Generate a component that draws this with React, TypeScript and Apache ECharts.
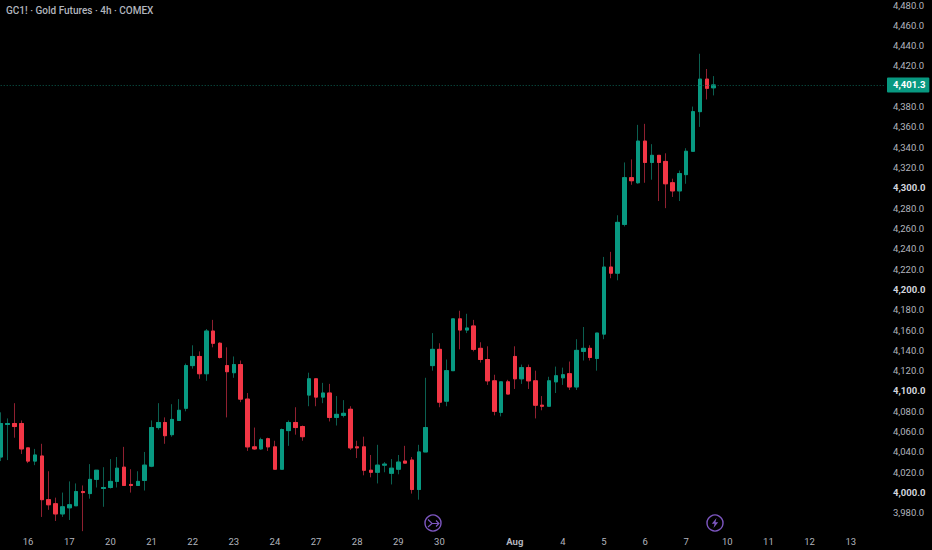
import React, { useEffect, useRef } from "react";
import * as echarts from "echarts";

const titleText = "GC1! · Gold Futures · 4h · COMEX";
const lastPrice = 4401.3;

const opens = [4035,4067,4068,4068,4044,4031,4036,3993,3989,3979,3985,3987,4001,3999,4013,4004,4005,4011,4025,4008,4007,4012,4026,4064,4069,4057,4071,4083,4125,4134,4117,4159,4147,4125,4118,4126,4092,4045,4043,4053,4045,4023,4061,4069,4065,4096,4112,4094,4098,4074,4076,4082,4045,4045,4022,4020,4027,4019,4023,4031,4032,4003,4040,4125,4141,4090,4120,4171,4160,4164,4142,4131,4110,4079,4109,4134,4112,4123,4110,4086,4085,4109,4113,4117,4104,4139,4142,4132,4156,4222,4216,4264,4310,4305,4346,4325,4332,4326,4305,4297,4313,4336,4375,4407,4398.5];
const closes = [4068,4068,4065,4043,4031,4037,3993,3988,3979,3986,3988,4001,4000,4013,4022,4005,4011,4024,4007,4007,4011,4027,4064,4069,4056,4072,4081,4125,4134,4117,4159,4147,4133,4119,4126,4092,4045,4043,4052,4045,4023,4062,4069,4064,4055,4112,4094,4098,4074,4077,4078,4044,4044,4022,4020,4027,4028,4024,4030,4029,4003,4040,4064,4141,4089,4120,4171,4160,4162,4141,4131,4110,4080,4109,4097,4112,4123,4110,4086,4085,4110,4115,4116,4104,4140,4142,4133,4157,4222,4216,4266,4310,4307,4346,4325,4332,4325,4304,4297,4314,4336,4375,4407,4398,4401.3];
const lows = [4031,4032,4054,4038,4029,4027,3976,3983,3972,3976,3973,3987,3962,3994,4005,3986,4004,4005,4007,4000,4007,4002,4025,4062,4048,4055,4071,4080,4122,4112,4110,4143,4132,4074,4113,4089,4041,4042,4042,4041,4023,4023,4046,4057,4051,4085,4085,4088,4070,4066,4074,4042,4034,4017,4015,4009,4020,4008,4018,4029,3999,3993,4040,4120,4084,4085,4120,4141,4157,4139,4128,4106,4076,4075,4097,4102,4107,4102,4073,4081,4085,4098,4106,4101,4101,4130,4130,4120,4151,4211,4209,4262,4303,4304,4305,4308,4287,4280,4291,4287,4304,4336,4360,4387,4391];
const highs = [4079,4073,4088,4071,4044,4043,4048,4021,3995,4000,4011,4009,4007,4028,4022,4025,4033,4035,4045,4023,4021,4040,4071,4088,4074,4087,4092,4127,4145,4139,4161,4170,4148,4143,4134,4130,4098,4064,4054,4054,4051,4063,4071,4084,4066,4118,4112,4108,4107,4095,4091,4085,4051,4055,4037,4047,4030,4033,4037,4046,4035,4047,4113,4157,4147,4131,4171,4179,4176,4170,4148,4144,4116,4109,4111,4144,4126,4126,4120,4095,4114,4124,4123,4129,4151,4163,4145,4157,4232,4237,4273,4325,4328,4362,4363,4343,4332,4334,4309,4317,4339,4380,4432,4417,4410];

const slotCount = 130;
const dateTickSlots = [4, 10, 16, 22, 28, 34, 40, 46, 52, 58, 64, 75, 82, 88, 94, 100, 106, 112, 118, 124];
const dateTickLabels = ["16", "17", "20", "21", "22", "23", "24", "27", "28", "29", "30", "Aug", "4", "5", "6", "7", "10", "11", "12", "13"];

const categories = Array.from({ length: slotCount }, (_, i) => {
  const at = dateTickSlots.indexOf(i);
  return at >= 0 ? dateTickLabels[at] : "";
});

const UP = "#089981";
const DOWN = "#f23645";
const UP_WICK = "#0b5f50";
const DOWN_WICK = "#8f2030";
const LABEL = "#b2b5be";
const FONT = "Roboto, sans-serif";
const ICON = "#7e57c2";

export default function App() {
  const ref = useRef<HTMLDivElement>(null);
  useEffect(() => {
    const chart = echarts.init(ref.current!, null, { renderer: "svg" });
    const fmt = (v: number) =>
      v.toLocaleString("en-US", { minimumFractionDigits: 1, maximumFractionDigits: 1 });
    chart.setOption({
      animation: false,
      backgroundColor: "#000000",
      title: {
        text: titleText,
        left: 6,
        top: 5,
        padding: 0,
        textStyle: { color: LABEL, fontSize: 10, fontWeight: 500, fontFamily: FONT },
      },
      grid: { left: 0.7, top: 0, width: 884.3, height: 533.2, containLabel: false },
      xAxis: {
        type: "category",
        data: categories,
        boundaryGap: false,
        axisLine: { show: false },
        axisTick: { show: false },
        splitLine: { show: false },
        axisLabel: {
          margin: 3,
          color: LABEL,
          fontSize: 9.5,
          fontFamily: FONT,
          interval: (i: number) => categories[i] !== "",
          formatter: (v: string) => (v === "Aug" ? "{b|Aug}" : v),
          rich: { b: { color: LABEL, fontSize: 9.5, fontWeight: "bold", fontFamily: FONT } },
        },
      },
      yAxis: {
        type: "value",
        position: "right",
        min: 3960,
        max: 4483.8,
        interval: 20,
        axisLine: { show: false },
        axisTick: { show: false },
        splitLine: { show: false },
        axisLabel: {
          margin: 8,
          showMinLabel: false,
          showMaxLabel: false,
          color: LABEL,
          fontSize: 9.5,
          fontFamily: FONT,
          formatter: (v: number) => (v % 100 === 0 ? `{b|${fmt(v)}}` : fmt(v)),
          rich: { b: { color: "#d1d4dc", fontSize: 9.5, fontWeight: "bold", fontFamily: FONT } },
        },
      },
      series: [
        {
          name: "Wicks",
          type: "candlestick",
          barWidth: 4,
          clip: false,
          data: opens.map((o, i) => [o, closes[i], lows[i], highs[i]]),
          itemStyle: {
            color: UP_WICK,
            color0: DOWN_WICK,
            borderColor: UP_WICK,
            borderColor0: DOWN_WICK,
            borderWidth: 1,
          },
        },
        {
          name: "GC1!",
          type: "candlestick",
          barWidth: 4,
          clip: false,
          data: opens.map((o, i) => [
            o,
            closes[i],
            Math.min(o, closes[i]),
            Math.max(o, closes[i]),
          ]),
          itemStyle: {
            color: UP,
            color0: DOWN,
            borderColor: UP,
            borderColor0: DOWN,
            borderWidth: 1,
          },
          markLine: {
            silent: true,
            symbol: "none",
            data: [{ yAxis: lastPrice }],
            lineStyle: { color: "#0b5f50", width: 1, type: [1, 2] },
            label: {
              show: true,
              position: "end",
              distance: 2,
              formatter: () => fmt(lastPrice),
              color: "#ffffff",
              fontSize: 9.5,
              fontWeight: "bold",
              fontFamily: FONT,
              backgroundColor: UP,
              padding: [3, 4, 2, 6],
              borderRadius: 1,
            },
          },
        },
      ],
      graphic: [
        { type: "circle", shape: { cx: 433, cy: 523, r: 8 }, style: { fill: "transparent", stroke: ICON, lineWidth: 1.4 } },
        {
          type: "polyline",
          shape: { points: [[428, 519.5], [432, 523.5], [439, 523.5]] },
          style: { fill: "none", stroke: ICON, lineWidth: 1.1 },
        },
        {
          type: "polyline",
          shape: { points: [[428, 527], [432, 523.5]] },
          style: { fill: "none", stroke: ICON, lineWidth: 1.1 },
        },
        {
          type: "polyline",
          shape: { points: [[436, 520.5], [439, 523.5], [436, 526.5]] },
          style: { fill: "none", stroke: ICON, lineWidth: 1.1 },
        },
        { type: "circle", shape: { cx: 715, cy: 523, r: 8 }, style: { fill: "transparent", stroke: ICON, lineWidth: 1.4 } },
        {
          type: "polygon",
          shape: { points: [[716.5, 518], [711.8, 523.8], [714.6, 523.8], [713.5, 528], [718.2, 522.2], [715.4, 522.2]] },
          style: { fill: ICON },
        },
      ],
    });
    return () => chart.dispose();
  }, []);
  return (
    <div
      ref={ref}
      style={{ position: "fixed", left: 0, top: 0, width: 932, height: 550, background: "#000" }}
    />
  );
}
